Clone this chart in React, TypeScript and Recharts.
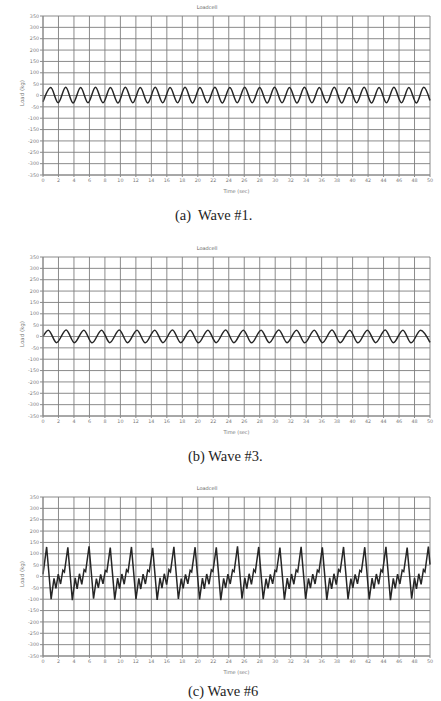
import React from 'react'
import { LineChart, Line, XAxis, YAxis, CartesianGrid } from 'recharts'

// axis ticks
const timeTicks = [0, 2, 4, 6, 8, 10, 12, 14, 16, 18, 20, 22, 24, 26, 28, 30, 32, 34, 36, 38, 40, 42, 44, 46, 48, 50]
const loadTicks = [-350, -300, -250, -200, -150, -100, -50, 0, 50, 100, 150, 200, 250, 300, 350]

// Wave #1 – peaks and troughs
const wave1Time = [
  0, 1.0, 1.96, 2.93, 3.89, 4.86, 5.82, 6.78, 7.75, 8.71, 9.68, 10.64, 11.6, 12.57, 13.53, 14.5, 15.46,
  16.42, 17.39, 18.35, 19.32, 20.28, 21.24, 22.21, 23.17, 24.14, 25.1, 26.06, 27.03, 27.99, 28.96, 29.92,
  30.88, 31.85, 32.81, 33.78, 34.74, 35.7, 36.67, 37.63, 38.6, 39.56, 40.52, 41.49, 42.45, 43.42, 44.38,
  45.34, 46.31, 47.27, 48.24, 49.2, 50,
]
const wave1Load = [
  -28, 35, -32, 36, -33, 35, -32, 36, -32, 35, -33, 36, -32, 35, -33, 36, -32,
  35, -32, 36, -33, 35, -32, 36, -33, 35, -32, 36, -32, 35, -33, 36,
  -32, 35, -33, 36, -32, 35, -32, 36, -33, 35, -32, 36, -33, 35, -32,
  36, -32, 35, -33, 36, -22,
]

// Wave #3
const wave3Time = [
  0, 0.69, 1.75, 2.99, 4.05, 5.28, 6.34, 7.57, 8.63, 9.86, 10.92, 12.15, 13.21, 14.44, 15.5, 16.73,
  17.79, 19.02, 20.08, 21.31, 22.37, 23.6, 24.66, 25.89, 26.95, 28.18, 29.24, 30.47, 31.53, 32.76,
  33.82, 35.05, 36.11, 37.34, 38.4, 39.63, 40.69, 41.92, 42.98, 44.21, 45.27, 46.5, 47.56, 48.79, 50,
]
const wave3Load = [
  0, 28, -27, 29, -27, 28, -28, 28, -27, 29, -27, 28, -28, 28, -27, 29,
  -27, 28, -28, 28, -27, 29, -27, 28, -28, 28, -27, 29, -27, 28,
  -28, 28, -27, 29, -27, 28, -28, 28, -27, 29, -27, 28, -28, 28, -26,
]

// Wave #6 – one row per cycle
const wave6Time = [
  0,
  0.47, 1.05, 1.42, 1.67, 1.97, 2.27, 2.57, 2.77,
  3.21, 3.79, 4.16, 4.41, 4.71, 5.01, 5.31, 5.51,
  5.95, 6.53, 6.9, 7.15, 7.45, 7.75, 8.05, 8.25,
  8.69, 9.27, 9.64, 9.89, 10.19, 10.49, 10.79, 10.99,
  11.43, 12.01, 12.38, 12.63, 12.93, 13.23, 13.53, 13.73,
  14.17, 14.75, 15.12, 15.37, 15.67, 15.97, 16.27, 16.47,
  16.91, 17.49, 17.86, 18.11, 18.41, 18.71, 19.01, 19.21,
  19.65, 20.23, 20.6, 20.85, 21.15, 21.45, 21.75, 21.95,
  22.39, 22.97, 23.34, 23.59, 23.89, 24.19, 24.49, 24.69,
  25.13, 25.71, 26.08, 26.33, 26.63, 26.93, 27.23, 27.43,
  27.87, 28.45, 28.82, 29.07, 29.37, 29.67, 29.97, 30.17,
  30.61, 31.19, 31.56, 31.81, 32.11, 32.41, 32.71, 32.91,
  33.35, 33.93, 34.3, 34.55, 34.85, 35.15, 35.45, 35.65,
  36.09, 36.67, 37.04, 37.29, 37.59, 37.89, 38.19, 38.39,
  38.83, 39.41, 39.78, 40.03, 40.33, 40.63, 40.93, 41.13,
  41.57, 42.15, 42.52, 42.77, 43.07, 43.37, 43.67, 43.87,
  44.31, 44.89, 45.26, 45.51, 45.81, 46.11, 46.41, 46.61,
  47.05, 47.63, 48.0, 48.25, 48.55, 48.85, 49.15, 49.35,
  49.79, 50,
]
const wave6Load = [
  10,
  130, -100, -8, -52, 10, -33, 28, 20,
  128, -104, -6, -54, 12, -35, 30, 22,
  133, -98, -9, -50, 9, -32, 27, 21,
  127, -102, -7, -53, 11, -34, 29, 20,
  130, -100, -8, -55, 10, -33, 28, 22,
  126, -103, -6, -51, 12, -36, 30, 21,
  131, -99, -9, -52, 9, -32, 27, 20,
  129, -101, -7, -54, 11, -34, 29, 22,
  128, -104, -8, -50, 10, -33, 28, 21,
  133, -98, -6, -53, 12, -35, 30, 20,
  130, -100, -9, -52, 9, -32, 27, 22,
  127, -102, -7, -55, 11, -34, 29, 21,
  131, -99, -8, -51, 10, -33, 28, 20,
  128, -103, -6, -54, 12, -36, 30, 22,
  130, -100, -9, -50, 9, -32, 27, 21,
  129, -101, -7, -53, 11, -34, 29, 20,
  131, -104, -8, -52, 10, -33, 28, 22,
  127, -98, -6, -55, 12, -35, 30, 21,
  132, 52,
]

const smallFont = '"DejaVu Sans", sans-serif'
const tickStyle = { fill: '#7a7a7a', fontSize: 4.8, fontFamily: smallFont }

interface PanelProps {
  time: number[]
  load: number[]
  curve: 'monotone' | 'linear'
  caption: string
  captionLeft: number
  captionTop: number
  top: number
}

function Panel({ time, load, curve, caption, captionLeft, captionTop, top }: PanelProps) {
  const data = time.map((t, i) => ({ t, load: load[i] }))
  return (
    <div style={{ position: 'absolute', left: 0, top, width: 441, height: 240 }}>
      <div
        style={{
          position: 'absolute', left: 207, top: 4, transform: 'translateX(-50%)',
          fontSize: 5, fontFamily: smallFont, color: '#666', whiteSpace: 'nowrap',
        }}
      >
        Loadcell
      </div>
      <div
        style={{
          position: 'absolute', left: 22, top: 93, transform: 'translate(-50%, -50%) rotate(-90deg)',
          fontSize: 5.5, fontFamily: smallFont, color: '#777', whiteSpace: 'nowrap',
        }}
      >
        Load (kg)
      </div>
      <LineChart width={441} height={200} data={data} margin={{ top: 16, right: 11, bottom: 0, left: 0 }}>
        <CartesianGrid stroke="#7e7e7e" strokeWidth={0.9} />
        <XAxis
          dataKey="t"
          type="number"
          domain={[0, 50]}
          ticks={timeTicks}
          interval={0}
          height={25}
          tick={tickStyle}
          tickSize={2}
          tickMargin={2}
          stroke="#8a8a8a"
          label={{ value: 'Time (sec)', position: 'insideBottom', offset: 7, style: { fill: '#777', fontSize: 5, fontFamily: smallFont } }}
        />
        <YAxis
          type="number"
          domain={[-350, 350]}
          ticks={loadTicks}
          interval={0}
          width={43}
          tick={tickStyle}
          tickSize={3}
          tickMargin={1}
          stroke="#8a8a8a"
        />
        <Line
          type={curve}
          dataKey="load"
          stroke="#262626"
          strokeWidth={1.5}
          dot={false}
          isAnimationActive={false}
        />
      </LineChart>
      <div
        style={{
          position: 'absolute', left: captionLeft, top: captionTop, fontSize: 14.5,
          fontFamily: '"Liberation Serif", serif', color: '#1e1e1e', whiteSpace: 'pre', lineHeight: '18px',
        }}
      >
        {caption}
      </div>
    </div>
  )
}

export default function App() {
  return (
    <div style={{ position: 'absolute', left: 0, top: 0, width: 441, height: 701, background: '#fff', overflow: 'hidden' }}>
      <Panel time={wave1Time} load={wave1Load} curve="monotone" caption="(a)  Wave #1." captionLeft={175} captionTop={206} top={0} />
      <Panel time={wave3Time} load={wave3Load} curve="monotone" caption="(b) Wave #3." captionLeft={188} captionTop={206} top={241} />
      <Panel time={wave6Time} load={wave6Load} curve="linear" caption="(c) Wave #6" captionLeft={188} captionTop={201} top={481} />
    </div>
  )
}
